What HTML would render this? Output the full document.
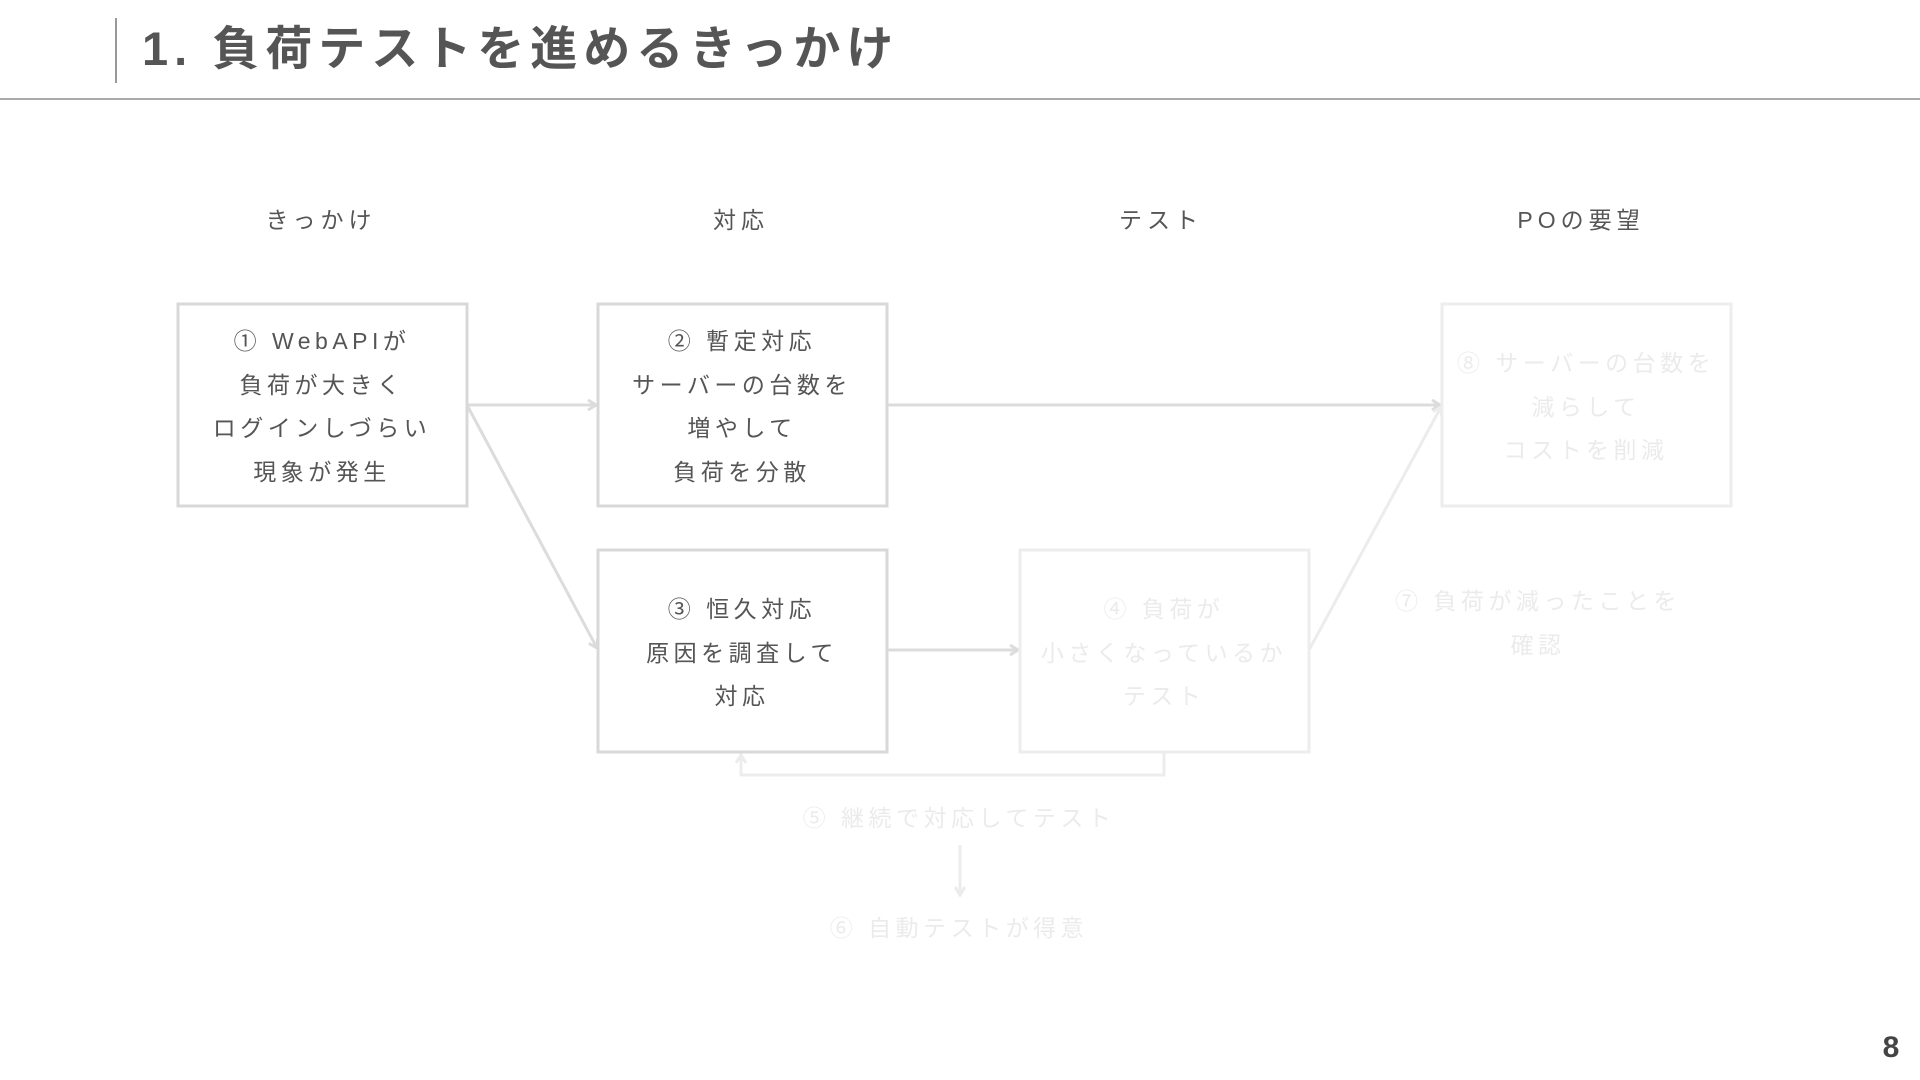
<!DOCTYPE html>
<html><head><meta charset="utf-8"><style>
html,body{margin:0;padding:0;background:#fff;}
body{width:1920px;height:1080px;overflow:hidden;position:relative;}
svg{position:absolute;left:0;top:0;}
text{font-family:"Liberation Sans","Noto Sans CJK JP",sans-serif;}
</style></head><body>
<svg width="1920" height="1080" viewBox="0 0 1920 1080">
<defs>
<marker id="a1" markerWidth="12" markerHeight="12" refX="10" refY="6" orient="auto" markerUnits="userSpaceOnUse"><path d="M2,1 L10,6 L2,11" fill="none" stroke="#dcdcdc" stroke-width="3"/></marker>
<marker id="a2" markerWidth="12" markerHeight="12" refX="10" refY="6" orient="auto" markerUnits="userSpaceOnUse"><path d="M2,1 L10,6 L2,11" fill="none" stroke="#ececec" stroke-width="3"/></marker>
</defs>
<line x1="116" y1="18" x2="116" y2="83" stroke="#999" stroke-width="2"/>
<text x="142" y="65" font-size="47" font-weight="bold" fill="#555" letter-spacing="6">1. 負荷テストを進めるきっかけ</text>
<line x1="0" y1="99" x2="1920" y2="99" stroke="#aaa" stroke-width="2"/>

<g font-size="23" fill="#555" text-anchor="middle" letter-spacing="5">
<text x="321" y="228">きっかけ</text>
<text x="741" y="228">対応</text>
<text x="1161" y="228">テスト</text>
<text x="1581" y="228">POの要望</text>
</g>

<g stroke-width="3" fill="none">
<line x1="467" y1="405" x2="596" y2="405" stroke="#dcdcdc" marker-end="url(#a1)"/>
<line x1="467" y1="405" x2="597" y2="648" stroke="#dcdcdc" marker-end="url(#a1)"/>
<line x1="887" y1="405" x2="1440" y2="405" stroke="#dcdcdc" marker-end="url(#a1)"/>
<line x1="887" y1="650" x2="1018" y2="650" stroke="#dcdcdc" marker-end="url(#a1)"/>
<line x1="1309" y1="650" x2="1441" y2="407" stroke="#ececec" marker-end="url(#a2)"/>
<polyline points="1164,752 1164,775 741,775 741,755" stroke="#ececec" marker-end="url(#a2)"/>
<line x1="960" y1="845" x2="960" y2="895" stroke="#ececec" marker-end="url(#a2)"/>
</g>

<g fill="#fff" stroke-width="3">
<rect x="178" y="304" width="289" height="202" stroke="#d8d8d8"/>
<rect x="598" y="304" width="289" height="202" stroke="#d8d8d8"/>
<rect x="598" y="550" width="289" height="202" stroke="#d8d8d8"/>
<rect x="1020" y="550" width="289" height="202" stroke="#ededed"/>
<rect x="1442" y="304" width="289" height="202" stroke="#ededed"/>
</g>

<g font-size="23" fill="#555" text-anchor="middle" letter-spacing="4.5">
<text x="322" y="349">① WebAPIが</text>
<text x="322" y="393">負荷が大きく</text>
<text x="322" y="436">ログインしづらい</text>
<text x="322" y="480">現象が発生</text>
<text x="742" y="349">② 暫定対応</text>
<text x="742" y="393">サーバーの台数を</text>
<text x="742" y="436">増やして</text>
<text x="742" y="480">負荷を分散</text>
<text x="742" y="617">③ 恒久対応</text>
<text x="742" y="661">原因を調査して</text>
<text x="742" y="704">対応</text>
</g>
<g font-size="23" fill="#ebebeb" text-anchor="middle" letter-spacing="4.5">
<text x="1164" y="617">④ 負荷が</text>
<text x="1164" y="661">小さくなっているか</text>
<text x="1164" y="704">テスト</text>
<text x="1586" y="371">⑧ サーバーの台数を</text>
<text x="1586" y="415">減らして</text>
<text x="1586" y="458">コストを削減</text>
<text x="1538" y="609">⑦ 負荷が減ったことを</text>
<text x="1538" y="653">確認</text>
<text x="959" y="826">⑤ 継続で対応してテスト</text>
<text x="959" y="936">⑥ 自動テストが得意</text>
</g>

<text x="1891" y="1057" font-size="30" font-weight="bold" fill="#444" text-anchor="middle">8</text>
</svg>
</body></html>
